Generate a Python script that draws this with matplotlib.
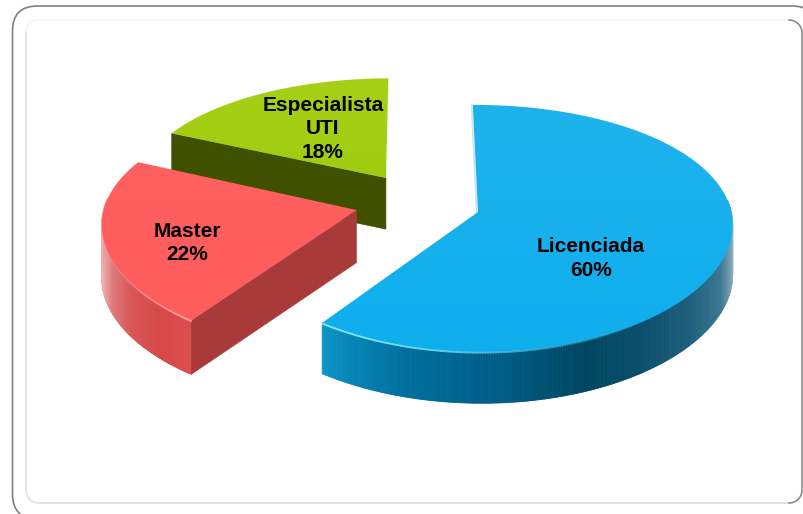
import numpy as np
import matplotlib
matplotlib.use("Agg")
import matplotlib.pyplot as plt
from matplotlib.collections import PolyCollection, LineCollection
from matplotlib.patches import FancyBboxPatch, Polygon
from matplotlib.colors import LinearSegmentedColormap

categories = ["Licenciada", "Master", "Especialista\nUTI"]
percentages = [60, 22, 18]

# Ground-plane projection of the exploded disc, in canvas pixels
ORIGIN_X, ORIGIN_Y = 440.0, 200.0
RADIUS_X, RADIUS_Y = 251.0, 118.2
PERSPECTIVE_X, PERSPECTIVE_Y = 0.09, 0.132
FIRST_ANGLE = -0.5
explode = [(0.150, -0.100), (-0.330, -0.084), (-0.219, 0.191)]
thickness = [49.5, 52.5, 51.5]
draw_order = [2, 1, 0]

top_colors = [("#1FB3EC", "#0EAEEE"), ("#FF6060", "#FF5C5C"), ("#A6D015", "#9FCC12")]
cut_colors = [None, "#A83B3A", "#3F5000"]
label_anchor = [(591, 258.5), (187, 243), (323, 129)]

# Rim shading: canvas x position -> RGB, plus the bright bevel along the upper rim
rim_x = [
    [321, 345, 400, 500, 585, 640, 690, 720, 731, 736],
    [99, 104, 112, 130, 160, 192],
    None,
]
rim_rgb = [
    [(14, 150, 200), (8, 135, 185), (0, 112, 158), (0, 92, 135), (0, 70, 96),
     (10, 78, 108), (30, 95, 125), (60, 120, 145), (130, 165, 185), (215, 228, 235)],
    [(245, 205, 205), (235, 165, 165), (222, 125, 125), (216, 88, 88), (215, 72, 72), (222, 78, 78)],
    None,
]
bevel_x = [[321, 400, 520, 640], [100, 150, 190], None]
bevel_alpha = [[0.95, 0.75, 0.35, 0.0], [0.0, 0.25, 0.65], None]
bevel_rgb = [(130, 235, 250), (255, 170, 170), None]


def project(x, z):
    return (ORIGIN_X + RADIUS_X * x / (1 + PERSPECTIVE_X * z),
            ORIGIN_Y - RADIUS_Y * z / (1 + PERSPECTIVE_Y * z))


def drop(z, height):
    return height * (1 - 0.03 * z)


def arc(cx, cy, r, a0, a1):
    t = np.radians(np.linspace(a0, a1, 30))
    return cx + r * np.cos(t), cy + r * np.sin(t)


fig = plt.figure(figsize=(8.04, 5.14), dpi=100)
ax = fig.add_axes([0, 0, 1, 1])
ax.axis("off")

# Card frame: dark outer outline running off the canvas, lighter inner panel
ax.add_patch(FancyBboxPatch((12.5 + 25, 6 + 25), 817 - 12.5 - 50, 519 - 6 - 50,
                            boxstyle="round,pad=25,rounding_size=25",
                            fc="white", ec="#808080", lw=1.2, zorder=1))
ax.add_patch(FancyBboxPatch((26 + 13, 20 + 13), 802 - 26 - 26, 503 - 20 - 26,
                            boxstyle="round,pad=13,rounding_size=13",
                            fc="white", ec="#F3F3F3", lw=1.0, zorder=2))
# Left and bottom edges of the panel carry a soft grey, the right edge a dark one
ax_l, ay_l = arc(39, 490, 13, 180, 90)
ax.plot(np.r_[26, ax_l, 789], np.r_[33, ay_l, 503], color="#E2E2E2", lw=1.3, zorder=3)
rx_t, ry_t = arc(789, 33, 13, -90, 0)
rx_b, ry_b = arc(789, 490, 13, 0, 90)
ax.plot(np.r_[rx_t, rx_b], np.r_[ry_t, ry_b], color="#858585", lw=1.1, zorder=4)

# Slices are built from the percentages, clockwise from twelve o'clock
edges = FIRST_ANGLE + 3.6 * np.r_[0, np.cumsum(percentages)]

for order, i in enumerate(draw_order):
    base = 10 + order * 5
    cx, cz = explode[i]
    theta = np.radians(np.linspace(edges[i], edges[i + 1], 400))
    ex = cx + np.sin(theta)
    ez = cz + np.cos(theta)
    px, py = project(ex, ez)
    ax0, ay0 = project(cx, cz)

    # Curved outer wall, only where it faces the viewer
    if rim_x[i] is not None:
        front = np.cos(theta) < 0.1
        fx, fy, fz = px[front], py[front], ez[front]
        fd = drop(fz, thickness[i])
        quads = [[(fx[k], fy[k]), (fx[k + 1], fy[k + 1]),
                  (fx[k + 1], fy[k + 1] + fd[k + 1]), (fx[k], fy[k] + fd[k])]
                 for k in range(len(fx) - 1)]
        mids = 0.5 * (fx[:-1] + fx[1:])
        rgb = np.array([np.interp(mids, rim_x[i], np.array(rim_rgb[i])[:, c])
                        for c in range(3)]).T / 255
        ax.add_collection(PolyCollection(quads, facecolors=rgb, edgecolors=rgb,
                                         linewidths=0.6, zorder=base))

    # Flat cut wall running from the apex to the clockwise-start end of the arc
    if cut_colors[i] is not None:
        ax.add_patch(Polygon([(ax0, ay0), (px[0], py[0]),
                              (px[0], py[0] + drop(ez[0], thickness[i])),
                              (ax0, ay0 + drop(cz, thickness[i]))],
                             fc=cut_colors[i], ec=cut_colors[i], lw=0.4, zorder=base + 1))

    # Pale sliver behind the straight back edge of the largest slice
    if i == 0:
        ax.plot([px[0] - 1.2, ax0 - 1.2], [py[0], ay0], color="#CFE3EA", lw=1.4, zorder=base + 1)

    # Upper face with a soft vertical gradient, clipped to the slice outline
    outline = Polygon(np.c_[np.r_[ax0, px], np.r_[ay0, py]], closed=True,
                      fc="none", ec="none", zorder=base + 2)
    ax.add_patch(outline)
    cmap = LinearSegmentedColormap.from_list("face", top_colors[i])
    img = ax.imshow(np.linspace(0, 1, 256)[:, None], cmap=cmap, aspect="auto",
                    extent=(px.min() - 5, max(px.max(), ax0) + 5, max(py.max(), ay0) + 5, py.min() - 5),
                    zorder=base + 2, interpolation="bilinear")
    img.set_clip_path(outline)

    # Bright bevel where the upper face meets the wall
    if bevel_x[i] is not None:
        front = np.cos(theta) < 0.1
        fx, fy = px[front], py[front] + 0.6
        segs = np.stack([np.c_[fx[:-1], fy[:-1]], np.c_[fx[1:], fy[1:]]], axis=1)
        alpha = np.interp(0.5 * (fx[:-1] + fx[1:]), bevel_x[i], bevel_alpha[i])
        cols = np.c_[np.tile(np.array(bevel_rgb[i]) / 255, (len(alpha), 1)), alpha]
        ax.add_collection(LineCollection(segs, colors=cols, linewidths=1.3,
                                         capstyle="round", zorder=base + 3))

for name, pct, (tx, ty) in zip(categories, percentages, label_anchor):
    ax.text(tx, ty, f"{name}\n{pct}%", ha="center", va="center", ma="center",
            family="Liberation Sans", weight="bold", fontsize=15, color="black",
            linespacing=1.27, zorder=50)

ax.set_xlim(0, 804)
ax.set_ylim(514, 0)
fig.savefig("out.png", dpi=100, facecolor="white")
